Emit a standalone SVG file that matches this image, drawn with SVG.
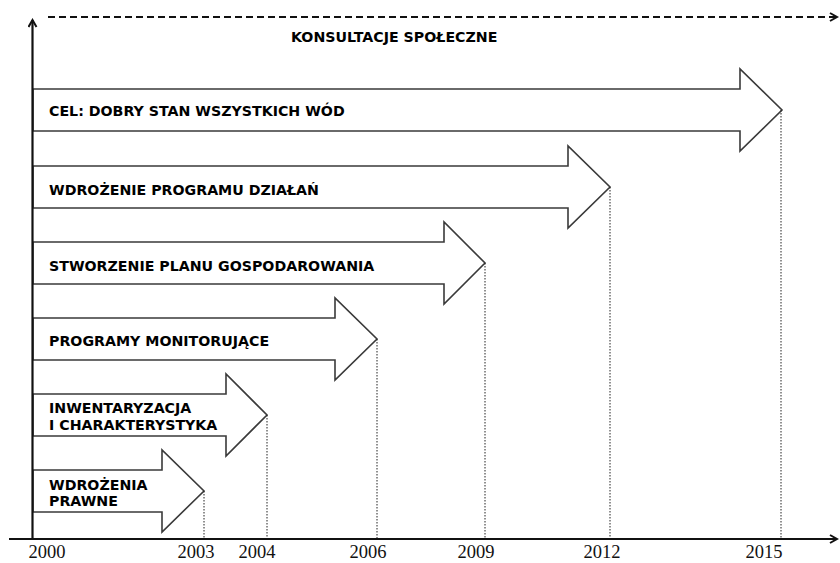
<svg xmlns="http://www.w3.org/2000/svg" width="840" height="563" viewBox="0 0 840 563">
<style>
.arr{fill:#fff;stroke:#3a3a3a;stroke-width:1.6;stroke-linejoin:miter}
.lbl{font-family:"DejaVu Sans",Verdana,sans-serif;font-weight:bold;font-size:14.2px;fill:#000}
.yr{font-family:"Liberation Serif","Times New Roman",serif;font-size:18.5px;fill:#111;text-anchor:middle}
.dot{stroke:#222;stroke-width:1;stroke-dasharray:1.5,1.5;fill:none}
.axis{stroke:#111;stroke-width:2.2;fill:none}
</style>
<defs>
<marker id="ah" markerWidth="10" markerHeight="10" refX="8" refY="5" orient="auto" markerUnits="userSpaceOnUse">
<path d="M1,1 L8,5 L1,9" fill="none" stroke="#111" stroke-width="2"/>
</marker>
</defs>
<rect width="840" height="563" fill="#fff"/>
<g id="arrow-cel">
<polygon class="arr" points="33,89 740,89 740,69 782,110 740,151 740,131 33,131"/>
<text class="lbl" x="49" y="116">CEL: DOBRY STAN WSZYSTKICH WÓD</text>
</g>
<g id="arrow-program">
<polygon class="arr" points="33,166 568,166 568,146 610,187 568,228 568,208 33,208"/>
<text class="lbl" x="49" y="195">WDROŻENIE PROGRAMU DZIAŁAŃ</text>
</g>
<g id="arrow-plan">
<polygon class="arr" points="33,242 444,242 444,222 485,263 444,304 444,284 33,284"/>
<text class="lbl" x="49" y="271">STWORZENIE PLANU GOSPODAROWANIA</text>
</g>
<g id="arrow-monitoring">
<polygon class="arr" points="33,318 335,318 335,298 377,339 335,380 335,360 33,360"/>
<text class="lbl" x="49" y="346">PROGRAMY MONITORUJĄCE</text>
</g>
<g id="arrow-inwentaryzacja">
<polygon class="arr" points="33,394 226,394 226,374 267,415 226,456 226,436 33,436"/>
<text class="lbl" x="49" y="413">INWENTARYZACJA</text>
<text class="lbl" x="49" y="430">I CHARAKTERYSTYKA</text>
</g>
<g id="arrow-prawne">
<polygon class="arr" points="33,470 162,470 162,450 204,491 162,532 162,512 33,512"/>
<text class="lbl" x="49" y="490">WDROŻENIA</text>
<text class="lbl" x="49" y="506">PRAWNE</text>
</g>
<g id="konsultacje">
<text class="lbl" x="291" y="42">KONSULTACJE SPOŁECZNE</text>
</g>
<g id="connectors">
<line class="dot" x1="204" y1="491" x2="204" y2="538"/>
<line class="dot" x1="267" y1="415" x2="267" y2="538"/>
<line class="dot" x1="377" y1="339" x2="377" y2="538"/>
<line class="dot" x1="485" y1="263" x2="485" y2="538"/>
<line class="dot" x1="610" y1="187" x2="610" y2="538"/>
<line class="dot" x1="781" y1="110" x2="781" y2="538"/>
<line x1="48" y1="17" x2="837" y2="17" stroke="#111" stroke-width="2" stroke-dasharray="7,4" marker-end="url(#ah)"/>
<line class="axis" x1="32.5" y1="540" x2="32.5" y2="20" marker-end="url(#ah)"/>
<line class="axis" x1="9" y1="539" x2="837" y2="539" marker-end="url(#ah)"/>
</g>
<g id="years">
<text class="yr" x="47" y="558">2000</text>
<text class="yr" x="196" y="558">2003</text>
<text class="yr" x="257" y="558">2004</text>
<text class="yr" x="368" y="558">2006</text>
<text class="yr" x="476" y="558">2009</text>
<text class="yr" x="602" y="558">2012</text>
<text class="yr" x="764" y="558">2015</text>
</g>
</svg>
